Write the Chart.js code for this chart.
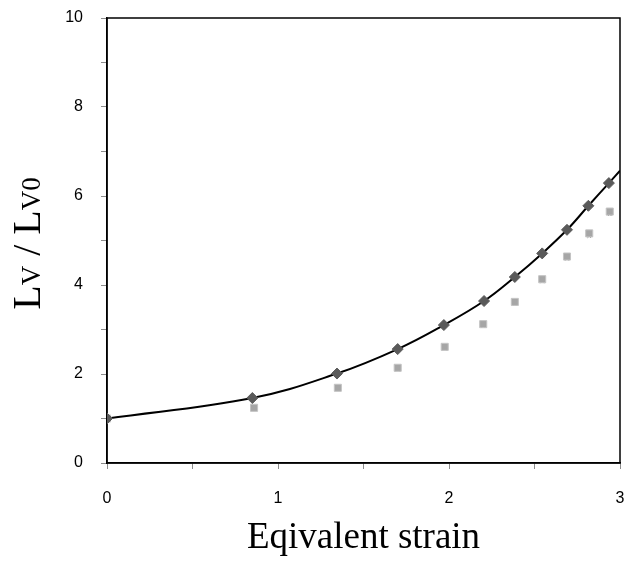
<!DOCTYPE html>
<html>
<head>
<meta charset="utf-8">
<script src="https://cdn.jsdelivr.net/npm/chart.js@4/dist/chart.umd.min.js"></script>
<style>
  html, body { margin: 0; padding: 0; background: #fff; }
  #wrap { width: 627px; height: 562px; }
</style>
</head>
<body>
<div id="wrap"><canvas id="chart" width="627" height="562"></canvas></div>
<script>
const strainA = [0, 0.85, 1.345, 1.70, 1.97, 2.205, 2.385, 2.545, 2.69, 2.815, 2.935];
const ratioA = [1.0, 1.46, 2.01, 2.56, 3.10, 3.64, 4.18, 4.71, 5.24, 5.78, 6.29];

const strainB = [0, 0.86, 1.35, 1.70, 1.975, 2.20, 2.385, 2.545, 2.69, 2.82, 2.94];
const ratioB = [1.0, 1.24, 1.69, 2.14, 2.61, 3.12, 3.62, 4.13, 4.64, 5.16, 5.65];
const ratioC = [1.0, 1.21, 1.66, 2.10, 2.57, 3.08, 3.57, 4.08, 4.59, 5.10, 5.59];

// fitted curve through series A, running to the right edge
const fitX = [0, 0.85, 1.345, 1.70, 1.97, 2.205, 2.385, 2.545, 2.69, 2.815, 2.935, 3.0];
const fitY = [1.0, 1.46, 2.01, 2.56, 3.10, 3.64, 4.18, 4.71, 5.24, 5.78, 6.29, 6.57];

const xTicks = [0, 1, 2, 3];
const yTicks = [0, 2, 4, 6, 8, 10];

const pts = (xs, ys) => xs.map((x, i) => ({ x: x, y: ys[i] }));

// y title with subscripts, drawn on the canvas
const yTitle = {
  id: 'yTitle',
  afterDraw(chart) {
    const ctx = chart.ctx;
    const a = chart.chartArea;
    const big = '40px "Liberation Serif", "Times New Roman", serif';
    const small = '27px "Liberation Serif", "Times New Roman", serif';
    const parts = [
      ['L', big], ['V', small], [' / ', big], ['L', big], ['V0', small]
    ];
    ctx.save();
    let total = 0;
    parts.forEach(p => { ctx.font = p[1]; total += ctx.measureText(p[0]).width; });
    ctx.translate(40, (a.top + a.bottom) / 2 + 3);
    ctx.rotate(-Math.PI / 2);
    ctx.fillStyle = '#000';
    ctx.textBaseline = 'alphabetic';
    let x = -total / 2;
    parts.forEach(p => {
      ctx.font = p[1];
      ctx.fillText(p[0], x, 0);
      x += ctx.measureText(p[0]).width;
    });
    ctx.restore();
  }
};

// box round the plot area
const frame = {
  id: 'frame',
  beforeDatasetsDraw(chart) {
    const ctx = chart.ctx;
    const a = chart.chartArea;
    ctx.save();
    ctx.strokeStyle = '#000';
    ctx.lineWidth = 1.5;
    ctx.strokeRect(a.left, a.top, a.right - a.left, a.bottom - a.top);
    ctx.restore();
  }
};

const tickFont = { family: '"Liberation Sans", Arial, sans-serif', size: 16 };

new Chart(document.getElementById('chart'), {
  type: 'scatter',
  data: {
    datasets: [
      {
        label: 'fit',
        type: 'line',
        data: pts(fitX, fitY),
        borderColor: '#000',
        borderWidth: 2,
        pointRadius: 0,
        tension: 0.4,
        fill: false,
        order: 4
      },
      {
        label: 'C',
        data: pts(strainB, ratioC),
        pointStyle: 'crossRot',
        pointRadius: 2.5,
        borderColor: '#8a8a8a',
        borderWidth: 1,
        order: 3
      },
      {
        label: 'B',
        data: pts(strainB, ratioB),
        pointStyle: 'rect',
        pointRadius: 5,
        backgroundColor: '#a6a6a6',
        borderColor: '#c4c4c4',
        borderWidth: 1,
        order: 2
      },
      {
        label: 'A',
        data: pts(strainA, ratioA),
        pointStyle: 'rectRot',
        pointRadius: 5.5,
        backgroundColor: '#5a5a5a',
        borderColor: '#5a5a5a',
        borderWidth: 1,
        order: 1
      }
    ]
  },
  options: {
    responsive: false,
    animation: false,
    layout: { padding: { left: 0, top: 18, right: 7, bottom: 0 } },
    plugins: {
      legend: { display: false },
      tooltip: { enabled: false }
    },
    scales: {
      x: {
        type: 'linear',
        min: 0,
        max: 3,
        afterFit(scale) {
          scale.height = 99;
          scale.paddingLeft = 0;
          scale.paddingRight = 0;
        },
        ticks: {
          stepSize: 0.5,
          autoSkip: false,
          maxRotation: 0,
          padding: 20,
          color: '#000',
          font: tickFont,
          callback: v => xTicks.includes(v) ? String(v) : ''
        },
        grid: { drawOnChartArea: false, drawTicks: true, tickLength: 6, color: '#8c8c8c' },
        border: { display: true, color: '#000', width: 1.5 },
        title: {
          display: true,
          text: 'Eqivalent strain',
          color: '#000',
          font: { family: '"Liberation Serif", "Times New Roman", serif', size: 37 },
          padding: { top: 0, bottom: 2 }
        }
      },
      y: {
        min: 0,
        max: 10,
        afterFit(scale) {
          scale.width = 107;
          scale.paddingTop = 0;
          scale.paddingBottom = 0;
        },
        ticks: {
          stepSize: 1,
          autoSkip: false,
          padding: 18,
          color: '#000',
          font: tickFont,
          callback: v => yTicks.includes(v) ? String(v) : ''
        },
        grid: { drawOnChartArea: false, drawTicks: true, tickLength: 6, color: '#8c8c8c' },
        border: { display: true, color: '#000', width: 1.5 }
      }
    }
  },
  plugins: [frame, yTitle]
});
</script>
</body>
</html>
